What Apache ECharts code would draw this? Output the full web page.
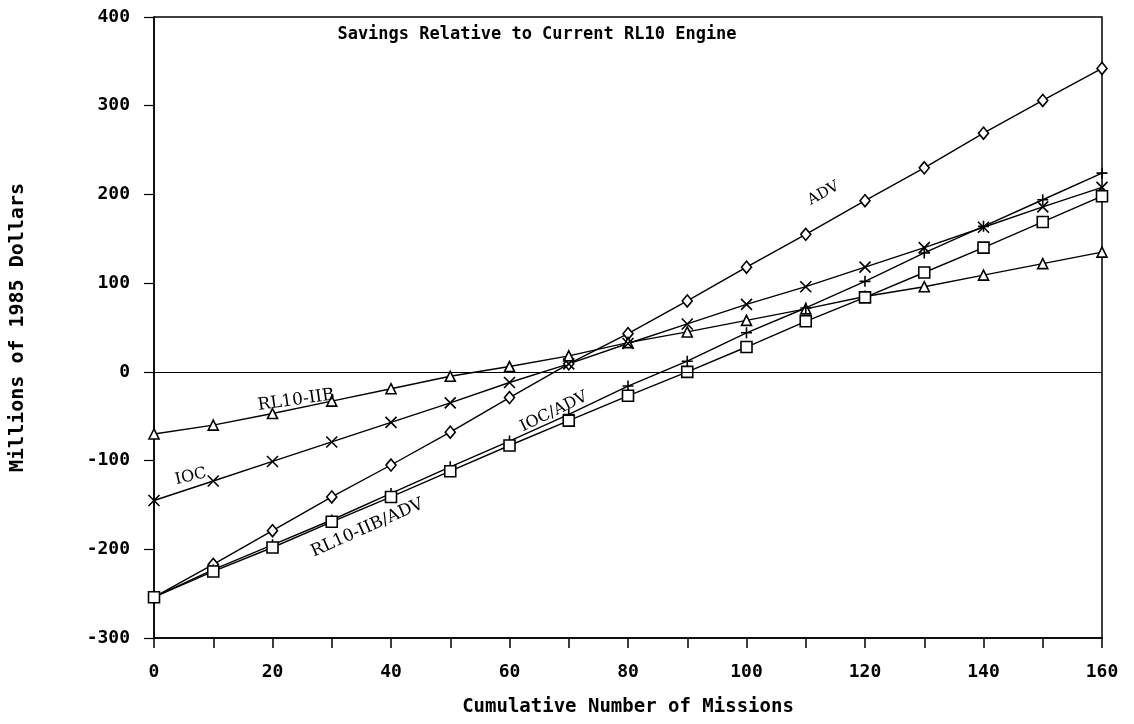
<!DOCTYPE html>
<html>
<head>
<meta charset="utf-8">
<script src="https://cdn.jsdelivr.net/npm/echarts@6/dist/echarts.min.js"></script>
<style>
  html, body { margin: 0; padding: 0; background: #fff; }
  #chart { width: 1134px; height: 724px; }
</style>
</head>
<body>
<div id="chart"></div>
<script>
// missions on the x axis
var missions = [0, 10, 20, 30, 40, 50, 60, 70, 80, 90, 100, 110, 120, 130, 140, 150, 160];
// savings, millions of 1985 dollars
var advData = [-254, -217, -179, -141, -105, -68, -29, 9, 43, 80, 118, 155, 193, 230, 269, 306, 342];
var rl10iibData = [-70, -60, -47, -33, -19, -5, 6, 18, 33, 45, 58, 71, 85, 96, 109, 122, 135];
var iocData = [-145, -123, -101, -79, -57, -35, -12, 9, 32, 54, 76, 96, 118, 140, 163, 186, 208];
var iocAdvData = [-254, -223, -195, -167, -137, -107, -78, -48, -16, 12, 44, 72, 102, 134, 164, 194, 224];
var rl10iibAdvData = [-254, -225, -198, -169, -141, -112, -83, -55, -27, 0, 28, 57, 84, 112, 140, 169, 198];

// curve labels: [x, y, rotate, font size]
var curveLabels = {
    'ADV': [113, 201, 29, 15],
    'RL10-IIB': [24, -32, 8, 17],
    'IOC': [6.2, -118, 13, 16],
    'IOC/ADV': [67.5, -45, 26, 16],
    'RL10-IIB/ADV': [36, -176, 24, 17]
};

var CROSS = 'path://M0,0 L10,10 M10,0 L0,10';
var PLUS = 'path://M5,0 L5,10 M0,5 L10,5';

function pairs(arr) {
    var out = [];
    for (var i = 0; i < missions.length; i++) {
        out.push([missions[i], arr[i]]);
    }
    return out;
}

function makeSeries(name, data, symbol, size) {
    var lab = curveLabels[name];
    return {
        name: name,
        type: 'line',
        data: pairs(data),
        symbol: symbol,
        symbolSize: size,
        showAllSymbol: true,
        lineStyle: { color: '#000', width: 1.4 },
        itemStyle: { color: '#fff', borderColor: '#000', borderWidth: 1.6 },
        emphasis: { disabled: true },
        markPoint: {
            symbol: 'circle',
            symbolSize: 1,
            silent: true,
            itemStyle: { color: 'rgba(0,0,0,0)', borderWidth: 0 },
            data: [{
                coord: [lab[0], lab[1]],
                label: {
                    show: true,
                    position: 'inside',
                    formatter: name,
                    rotate: lab[2],
                    color: '#000',
                    fontFamily: 'DejaVu Serif',
                    fontSize: lab[3]
                }
            }]
        },
        z: 3
    };
}

var chart = echarts.init(document.getElementById('chart'));

var series = [
    makeSeries('ADV', advData, 'diamond', [10, 12]),
    makeSeries('RL10-IIB', rl10iibData, 'triangle', 10),
    makeSeries('IOC', iocData, CROSS, 11),
    makeSeries('IOC/ADV', iocAdvData, PLUS, 11),
    makeSeries('RL10-IIB/ADV', rl10iibAdvData, 'rect', 11)
];
// zero line
series[0].markLine = {
    symbol: 'none',
    silent: true,
    label: { show: false },
    lineStyle: { color: '#000', width: 1.2, type: 'solid' },
    data: [{ yAxis: 0 }]
};

var boldFont = 'DejaVu Sans Mono';

chart.setOption({
    animation: false,
    backgroundColor: '#fff',
    title: {
        text: 'Savings Relative to Current RL10 Engine',
        left: 532,
        top: 21,
        textAlign: 'center',
        textStyle: { fontFamily: boldFont, fontWeight: 'bold', fontSize: 17, color: '#000' }
    },
    grid: {
        left: 153,
        right: 32,
        top: 17,
        bottom: 86,
        show: true,
        borderColor: '#000',
        borderWidth: 1.5
    },
    xAxis: {
        type: 'value',
        min: 0,
        max: 160,
        interval: 10,
        name: 'Cumulative Number of Missions',
        nameLocation: 'middle',
        nameGap: 60,
        nameTextStyle: { fontFamily: boldFont, fontWeight: 'bold', fontSize: 19, color: '#000' },
        axisLine: { onZero: false, lineStyle: { color: '#000', width: 1.5 } },
        axisTick: { length: 10, lineStyle: { color: '#000', width: 1.5 } },
        axisLabel: {
            margin: 25,
            color: '#000',
            fontFamily: boldFont,
            fontWeight: 'bold',
            fontSize: 18,
            formatter: function(v) { return v % 20 === 0 ? String(v) : ''; }
        },
        splitLine: { show: false }
    },
    yAxis: {
        type: 'value',
        min: -300,
        max: 400,
        interval: 100,
        name: 'Millions of 1985 Dollars',
        nameLocation: 'middle',
        nameRotate: 90,
        nameGap: 126,
        nameTextStyle: { fontFamily: boldFont, fontWeight: 'bold', fontSize: 20, color: '#000' },
        axisLine: { onZero: false, lineStyle: { color: '#000', width: 1.5 } },
        axisTick: { show: true, length: 10, lineStyle: { color: '#000', width: 1.2 } },
        axisLabel: {
            margin: 24,
            color: '#000',
            fontFamily: boldFont,
            fontWeight: 'bold',
            fontSize: 18
        },
        splitLine: { show: false }
    },
    series: series
});
</script>
</body>
</html>
